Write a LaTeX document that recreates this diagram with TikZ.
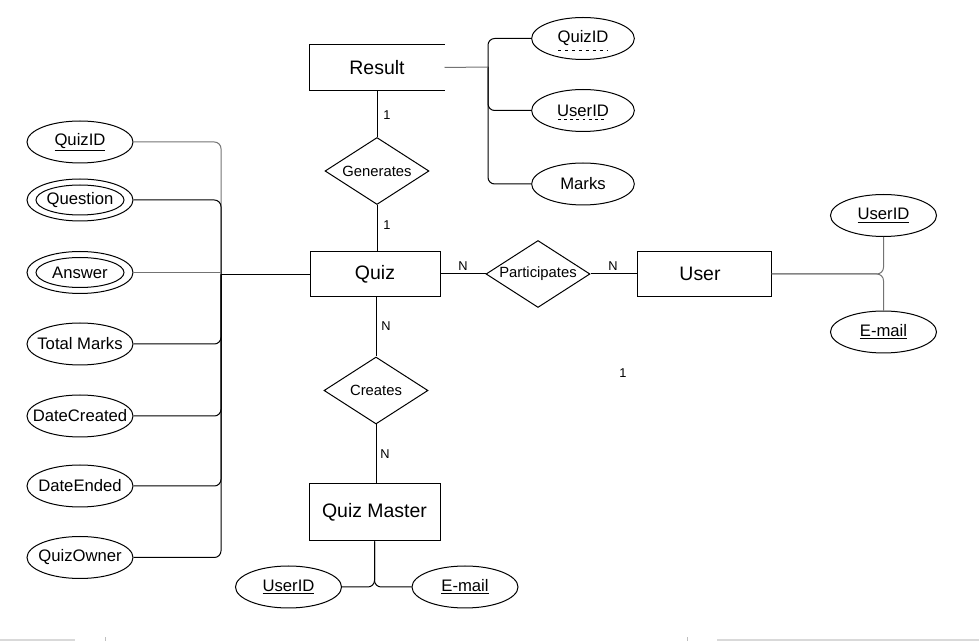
\documentclass[tikz,border=0pt]{standalone}
\usepackage{fontspec}
\setmainfont{Liberation Sans}
\usetikzlibrary{shapes.geometric}
\newcommand\zbox[1]{\makebox[0pt]{#1}}
\begin{document}
\begin{tikzpicture}[x=0.75pt,y=-0.75pt,
  line width=0.75pt,
  entity/.style={draw, rectangle, inner sep=0pt, font=\fontsize{14.6}{16}\selectfont},
  attr/.style={draw, ellipse, inner sep=0pt, minimum width=79.5pt, minimum height=31.5pt, font=\fontsize{12.5}{14}\selectfont},
  rel/.style={draw, diamond, inner sep=0pt, shape aspect=1.55, minimum width=78pt, minimum height=50.25pt, font=\fontsize{11.1}{13}\selectfont},
  card/.style={font=\fontsize{9.6}{11}\selectfont, inner sep=0pt},
  link/.style={rounded corners=5pt},
  glink/.style={rounded corners=5pt, draw=black!55},
]
\useasboundingbox (0,0) rectangle (979,641);

% entities
\node[entity, draw=none, minimum width=100.5pt, minimum height=33.75pt] (result) at (377,67.5) {Result};
\draw (result.north east) -- (result.north west) -- (result.south west) -- (result.south east);
\node[entity, minimum width=97.5pt, minimum height=33.75pt] (quiz) at (375,274.5) {Quiz};
\node[entity, minimum width=98.25pt, minimum height=42.75pt] (qm) at (374.5,512.5) {Quiz Master};
\node[entity, minimum width=100.5pt, minimum height=33.75pt] (user) at (704,274) {\zbox{\hspace*{-6pt}User}};

% relationships
\node[rel] (gen) at (377,171) {\zbox{Generates}};
\node[rel] (part) at (538,274) {\zbox{Participates}};
\node[rel] (cre) at (376,390.5) {\zbox{Creates}};

% relationship lines
\draw (result.south -| gen.north) -- (gen.north);
\draw (gen.south) -- (gen.south |- quiz.north);
\draw (quiz.south -| cre.north) -- (cre.north);
\draw (cre.south) -- (cre.south |- qm.north);
\draw (quiz.east |- part.west) -- (part.west);
\draw (part.east) -- (part.east -| user.west);

% cardinalities
\node[card] (c1) at (387,115) {1};
\node[card] (c2) at (387,225) {1};
\node[card] (c3) at (386,326) {N};
\node[card] (c4) at (385,454) {N};
\node[card] (c5) at (463,266) {N};
\node[card] (c6) at (613,266) {N};
\node[card] (c7) at (623,373) {1};

% Result attributes
\node[attr, minimum width=77pt] (rquiz) at (583,38.5) {\zbox{QuizID}};
\node[attr, minimum width=77pt] (ruser) at (583,110.5) {\zbox{UserID}};
\node[attr, minimum width=77pt] (rmarks) at (583,184) {\zbox{Marks}};
\draw[dash pattern=on 2.6pt off 2.6pt, line width=0.6pt] (558,50.5) -- (607,50.5);
\draw[dash pattern=on 2.2pt off 2.4pt, line width=1.1pt] (558,119.5) -- (607,119.5);
\coordinate (rj) at (488,67);
\draw[link] (rquiz.west) -| (rj);
\draw[link] (ruser.west) -| (rj);
\draw[link] (rmarks.west) -| (rj);
\draw[glink] (rj) -- (result.east);

% Quiz attributes
\node[attr] (qid) at (80,142) {\zbox{\underline{QuizID}}};
\node[attr] (qq) at (80,200) {\zbox{Question}};
\draw (qq.center) ellipse [x radius=33pt, y radius=11.25pt];
\node[attr] (qa) at (80,272.5) {\zbox{Answer}};
\draw (qa.center) ellipse [x radius=33pt, y radius=11.25pt];
\node[attr] (qt) at (80,344) {\zbox{Total Marks}};
\node[attr] (qd) at (80,416) {\zbox{DateCreated}};
\node[attr] (qe) at (80,486) {\zbox{DateEnded}};
\node[attr] (qo) at (80,557.5) {\zbox{QuizOwner}};
\coordinate (qj) at (221,274.5);
\draw[glink] (qid.east) -| (qj);
\draw[link] (qq.east) -| (qj);
\draw[glink] (qa.east) -- (qa.east -| qj);
\draw[link] (qt.east) -| (qj);
\draw[link] (qd.east) -| (qj);
\draw[link] (qe.east) -| (qj);
\draw[link] (qo.east) -| (qj);
\draw (qj) -- (quiz.west);

% Quiz Master attributes
\node[attr] (muser) at (288.5,587) {\zbox{\underline{UserID}}};
\node[attr] (mmail) at (465,587) {\zbox{\underline{E-mail}}};
\draw[link] (muser.east) -| (qm.south);
\draw[link] (mmail.west) -| (qm.south);

% User attributes
\node[attr] (uuser) at (883.5,215.5) {\zbox{\underline{UserID}}};
\node[attr] (umail) at (883.5,332) {\zbox{\underline{E-mail}}};
\draw[glink] (user.east) -| (uuser.south);
\draw[glink] (user.east) -| (umail.north);

% bottom edge remnants
\draw[draw=black!15, line width=1.5pt] (0,639.5) -- (75,639.5);
\draw[draw=black!15, line width=1.5pt] (717,639.5) -- (979,639.5);
\draw[draw=black!25, line width=0.6pt] (105,637) -- (105,641);
\draw[draw=black!25, line width=0.6pt] (687,637) -- (687,641);
\end{tikzpicture}
\end{document}
